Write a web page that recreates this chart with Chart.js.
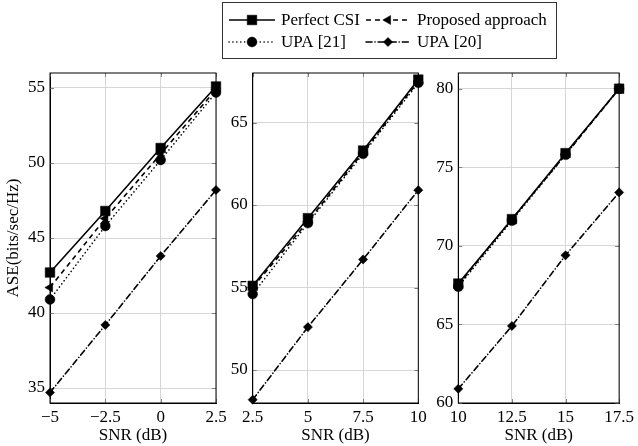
<!DOCTYPE html>
<html><head><meta charset="utf-8">
<script src="https://cdn.jsdelivr.net/npm/chart.js@4.4.0/dist/chart.umd.min.js"></script>
<style>
html,body{margin:0;padding:0;background:#fff;}
#wrap{position:relative;width:638px;height:446px;overflow:hidden;}
canvas{position:absolute;top:0;}
</style></head><body>
<div id="wrap">
<canvas id="c1" width="236" height="446" style="left:0px"></canvas>
<canvas id="c2" width="220" height="446" style="left:220px"></canvas>
<canvas id="c3" width="218" height="446" style="left:420px"></canvas>
<canvas id="leg" width="638" height="70" style="left:0px"></canvas>
</div>
<script>
// ---- data ----
const seriesNames = ['Perfect CSI', 'Proposed approach', 'UPA [21]', 'UPA [20]'];

const snrA = [-5, -2.5, 0, 2.5];
const snrB = [2.5, 5, 7.5, 10];
const snrC = [10, 12.5, 15, 17.5];

const perfectA  = [42.7, 46.8, 51.0, 55.1];
const proposedA = [41.7, 46.3, 50.6, 54.9];
const upa21A    = [40.9, 45.8, 50.2, 54.7];
const upa20A    = [34.7, 39.2, 43.8, 48.2];

const perfectB  = [55.1, 59.2, 63.3, 67.6];
const proposedB = [55.0, 59.0, 63.2, 67.5];
const upa21B    = [54.6, 58.9, 63.1, 67.4];
const upa20B    = [48.2, 52.6, 56.7, 60.9];

const perfectC  = [67.6, 71.7, 75.9, 80.0];
const proposedC = [67.5, 71.7, 75.8, 80.0];
const upa21C    = [67.4, 71.6, 75.8, 80.0];
const upa20C    = [60.9, 64.9, 69.4, 73.4];

const yTicksA = [35, 40, 45, 50, 55];
const yTicksB = [50, 55, 60, 65];
const yTicksC = [60, 65, 70, 75, 80];
const yRangeA = [34, 56];
const yRangeB = [48, 68];
const yRangeC = [60, 81];

const xTitle = 'SNR (dB)';
const yTitle = 'ASE(bits/sec/Hz)';

// ---- styles ----
const FONT = '"Liberation Serif", "Times New Roman", serif';
const FS = 17;
const styles = [
  {dash: [], cap: 'butt', pt: 'rect', r: 6.8, rot: 0},
  {dash: [5, 4], cap: 'butt', pt: 'triangle', r: 5.2, rot: -90},
  {dash: [0.1, 3.8], cap: 'round', pt: 'circle', r: 4.9, rot: 0},
  {dash: [6, 3, 0.1, 3], cap: 'round', pt: 'rectRot', r: 4.6, rot: 0}
];

const framePlugin = {
  id: 'frame',
  beforeDatasetsDraw(chart) {
    const a = chart.chartArea, ctx = chart.ctx;
    const xs = chart.scales.x, ys = chart.scales.y;
    ctx.save();
    // inward tick marks on all four sides
    ctx.strokeStyle = '#808080';
    ctx.lineWidth = 1;
    const L = 4;
    ctx.beginPath();
    xs.ticks.forEach(t => {
      const px = Math.round(xs.getPixelForValue(t.value)) + 0.5;
      ctx.moveTo(px, a.bottom); ctx.lineTo(px, a.bottom - L);
      ctx.moveTo(px, a.top); ctx.lineTo(px, a.top + L);
    });
    ys.ticks.forEach(t => {
      const py = Math.round(ys.getPixelForValue(t.value)) + 0.5;
      ctx.moveTo(a.left, py); ctx.lineTo(a.left + L, py);
      ctx.moveTo(a.right, py); ctx.lineTo(a.right - L, py);
    });
    ctx.stroke();
    ctx.strokeStyle = '#000';
    ctx.strokeRect(a.left, a.top, a.right - a.left, a.bottom - a.top);
    ctx.restore();
  }
};

function fmt(v) { return String(v).replace('-', '\u2212'); }

function makePanel(id, xs, seriesList, yRange, yTicks, yWidth, padRight, showYTitle) {
  return new Chart(document.getElementById(id), {
    type: 'line',
    data: {
      datasets: seriesList.map((vals, i) => ({
        label: seriesNames[i],
        data: xs.map((x, j) => ({x: x, y: vals[j]})),
        borderColor: '#000',
        backgroundColor: '#000',
        borderWidth: 1.6,
        borderDash: styles[i].dash,
        borderCapStyle: styles[i].cap,
        pointStyle: styles[i].pt,
        pointRadius: styles[i].r,
        pointRotation: styles[i].rot,
        pointBorderWidth: 0.5,
        pointBorderColor: '#000',
        pointBackgroundColor: '#000',
        tension: 0,
        clip: false,
        fill: false
      }))
    },
    options: {
      responsive: false,
      animation: false,
      devicePixelRatio: 1,
      layout: {padding: {left: 0, right: padRight, top: 73, bottom: 0}},
      plugins: {legend: {display: false}, tooltip: {enabled: false}},
      scales: {
        x: {
          type: 'linear', min: xs[0], max: xs[xs.length - 1],
          afterBuildTicks: s => { s.ticks = xs.map(v => ({value: v})); },
          afterFit: s => { s.height = 43; },
          grid: {color: '#d6d6d6', lineWidth: 1, drawTicks: false},
          border: {color: '#000', width: 1},
          ticks: {autoSkip: false, maxRotation: 0, padding: 4, color: '#000',
                  font: {family: FONT, size: FS}, callback: v => fmt(v)},
          title: {display: true, text: xTitle, color: '#000', font: {family: FONT, size: FS},
                  padding: {top: 0, bottom: 0}}
        },
        y: {
          type: 'linear', min: yRange[0], max: yRange[1],
          afterBuildTicks: s => { s.ticks = yTicks.map(v => ({value: v})); },
          afterFit: s => { s.width = yWidth; },
          grid: {color: '#d6d6d6', lineWidth: 1, drawTicks: false},
          border: {color: '#000', width: 1},
          ticks: {autoSkip: false, padding: 5, color: '#000',
                  font: {family: FONT, size: FS}, callback: v => fmt(v)},
          title: {display: showYTitle, text: yTitle, color: '#000', font: {family: FONT, size: FS},
                  padding: {top: 3, bottom: 0}}
        }
      }
    },
    plugins: [framePlugin]
  });
}

makePanel('c1', snrA, [perfectA, proposedA, upa21A, upa20A], yRangeA, yTicksA, 50, 20, true);
makePanel('c2', snrB, [perfectB, proposedB, upa21B, upa20B], yRangeB, yTicksB, 32.7, 21.7, false);
makePanel('c3', snrC, [perfectC, proposedC, upa21C, upa20C], yRangeC, yTicksC, 38.3, 14, false);

// ---- legend ----
(function () {
  const c = document.getElementById('leg');
  const ctx = c.getContext('2d');
  const box = {x: 222.5, y: 2.5, w: 334, h: 56};
  ctx.fillStyle = '#fff';
  ctx.fillRect(box.x, box.y, box.w, box.h);
  ctx.strokeStyle = '#333';
  ctx.lineWidth = 1;
  ctx.strokeRect(box.x, box.y, box.w, box.h);
  const cells = [
    {sx: 229, sw: 46, tx: 281, y: 20},
    {sx: 366, sw: 44, tx: 417, y: 20},
    {sx: 229, sw: 46, tx: 281, y: 42},
    {sx: 366, sw: 44, tx: 417, y: 42}
  ];
  ctx.font = FS + 'px ' + FONT;
  ctx.textBaseline = 'middle';
  cells.forEach((cell, i) => {
    const st = styles[i];
    ctx.save();
    ctx.strokeStyle = '#000';
    ctx.lineWidth = 1.6;
    ctx.setLineDash(st.dash);
    ctx.lineCap = st.cap;
    ctx.beginPath();
    ctx.moveTo(cell.sx, cell.y);
    ctx.lineTo(cell.sx + cell.sw, cell.y);
    ctx.stroke();
    ctx.restore();
    ctx.save();
    ctx.fillStyle = '#000';
    ctx.strokeStyle = '#000';
    ctx.lineWidth = 0.5;
    Chart.helpers.drawPoint(ctx, {pointStyle: st.pt, radius: st.r, rotation: st.rot, borderWidth: 0.5},
      cell.sx + cell.sw / 2, cell.y);
    ctx.restore();
    ctx.fillStyle = '#000';
    ctx.fillText(seriesNames[i], cell.tx, cell.y + 1);
  });
})();
</script>
</body></html>
